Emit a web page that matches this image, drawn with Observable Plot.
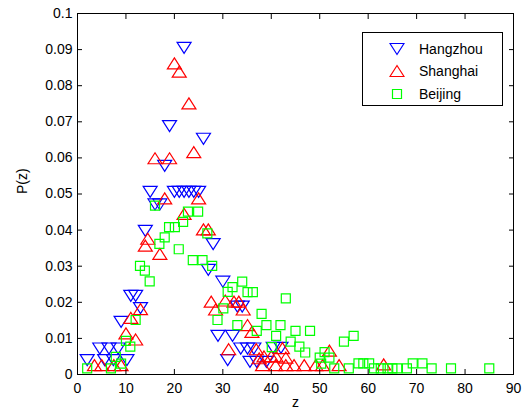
<!DOCTYPE html>
<html>
<head>
<meta charset="utf-8">
<script src="https://cdn.jsdelivr.net/npm/d3@7"></script>
<script src="https://cdn.jsdelivr.net/npm/@observablehq/plot@0.6"></script>
<style>
  body { margin: 0; background: #fff; }
  #wrap { position: relative; width: 525px; height: 414px; font-family: "Liberation Sans", Arial, sans-serif; }
  #legend { position: absolute; left: 362px; top: 32px; width: 141px; height: 74px; border: 1px solid #000; background: #fff; box-sizing: border-box; }
  .item { position: absolute; left: 0; height: 16px; display: flex; align-items: center; font-size: 14px; color: #000; }
  .item svg { margin-left: 26px; margin-right: 14px; }
</style>
</head>
<body>
<div id="wrap"></div>
<script>
const xTicks = [0, 10, 20, 30, 40, 50, 60, 70, 80, 90];
const yTicks = [0, 0.01, 0.02, 0.03, 0.04, 0.05, 0.06, 0.07, 0.08, 0.09, 0.1];
const yTickLabels = ["0", "0.01", "0.02", "0.03", "0.04", "0.05", "0.06", "0.07", "0.08", "0.09", "0.1"];
const seriesNames = ["Hangzhou", "Shanghai", "Beijing"];
const seriesColors = ["#0000ff", "#ff0000", "#00ff00"];
const xLabel = "z";
const yLabelText = "P(z)";

// [z, P(z)]
const hangzhou = [
  [22, 0.0905], [19, 0.0688], [26, 0.0653], [18, 0.0578], [15, 0.0506],
  [20, 0.0506], [21, 0.0506], [22, 0.0506], [23, 0.0506], [24, 0.0506], [25, 0.0506],
  [16, 0.0471], [17, 0.0471], [14, 0.0398], [28, 0.0361], [27, 0.0290], [30, 0.0257],
  [11, 0.0218], [12, 0.0218], [33, 0.0188], [34, 0.0188], [13, 0.0184], [9, 0.0146],
  [29, 0.0107], [32, 0.0107], [4.6, 0.0072], [6.5, 0.0072], [8.4, 0.0072],
  [2, 0.0040], [5.6, 0.0040], [7.4, 0.0040], [10.2, 0.0040],
  [33.7, 0.0072], [35.1, 0.0072], [36.4, 0.0072], [40.4, 0.0074], [42, 0.0074],
  [31, 0.0040], [35.6, 0.0035], [37, 0.0035], [39, 0.0035]
];
const shanghai = [
  [20, 0.0862], [21, 0.0839], [23, 0.0751], [24, 0.0616], [16, 0.0599], [19, 0.0599],
  [18, 0.0488], [25, 0.0488], [22, 0.0445], [26, 0.0402], [27, 0.0402],
  [14.5, 0.0376], [14, 0.0357], [17, 0.0334],
  [27.6, 0.0202], [30.5, 0.0205], [32.3, 0.0202], [33.3, 0.0202], [28.5, 0.0180], [34.2, 0.0180],
  [13, 0.0181], [11, 0.0157], [10, 0.0114], [12, 0.0097],
  [35.1, 0.0137], [36, 0.0118], [31.2, 0.0070], [36.9, 0.0070], [42.3, 0.0073],
  [37.5, 0.0045], [38.5, 0.0050], [40, 0.0050], [41, 0.0050], [43, 0.0047],
  [38.2, 0.0026], [40.9, 0.0026], [43, 0.0026], [44.7, 0.0026], [46.8, 0.0026], [49.2, 0.0026],
  [52, 0.0066], [50.6, 0.0026], [54, 0.0026], [63.2, 0.0028],
  [3.5, 0.0026], [5, 0.0026], [7.5, 0.0026], [9, 0.0026]
];
const beijing = [
  [16, 0.0468], [22.8, 0.0451], [24.9, 0.0451], [21.8, 0.0423], [18.9, 0.0408], [20.1, 0.0408],
  [18, 0.0380], [16.9, 0.0362], [20.9, 0.0347], [26.8, 0.0391], [23.8, 0.0317], [25.8, 0.0317],
  [27.8, 0.0301], [12.9, 0.0301], [13.9, 0.0288], [14.9, 0.0258], [34, 0.0257], [32, 0.0242],
  [31, 0.0229], [35.1, 0.0228], [36.2, 0.0228], [43, 0.0211], [30.1, 0.0183], [28.9, 0.0151],
  [38, 0.0168], [33, 0.0137], [39, 0.0137], [41.9, 0.0137], [37, 0.0121], [41, 0.0107],
  [45, 0.0121], [48, 0.0121], [44, 0.0091], [45.8, 0.0077], [47, 0.0061], [40.1, 0.0076],
  [12, 0.0151], [10, 0.0093], [10.9, 0.0077], [7.9, 0.0049], [2, 0.0017], [6.9, 0.0017], [9, 0.0030],
  [50, 0.0047], [51, 0.0062], [52, 0.0047], [50.3, 0.0030], [53, 0.0017],
  [55, 0.0091], [57, 0.0107], [56, 0.0017], [58, 0.0031], [59, 0.0031], [60.2, 0.0031],
  [61.2, 0.0017], [62.6, 0.0017], [64, 0.0017], [65, 0.0017], [66, 0.0017], [68, 0.0017],
  [69.2, 0.0031], [71.2, 0.0031], [73.1, 0.0017], [77.1, 0.0017], [85, 0.0017]
];

// marker shapes (MATLAB-like)
const triDown = { draw(c) { c.moveTo(-7, -5.5); c.lineTo(7, -5.5); c.lineTo(0, 5.5); c.closePath(); } };
const triUp = { draw(c) { c.moveTo(0, -5.5); c.lineTo(7, 5.5); c.lineTo(-7, 5.5); c.closePath(); } };
const square = { draw(c) { c.rect(-4.5, -4.5, 9, 9); } };
const symbols = [triDown, triUp, square];
const seriesData = [hangzhou, shanghai, beijing];

const yLabelMap = new Map(yTicks.map((t, i) => [t, yTickLabels[i]]));

const chart = Plot.plot({
  width: 525,
  height: 414,
  marginLeft: 77,
  marginRight: 12,
  marginTop: 13,
  marginBottom: 40,
  style: { fontFamily: "'Liberation Sans', Arial, sans-serif", fontSize: "14px", color: "#000", background: "#fff", overflow: "visible" },
  x: { domain: [0, 90] },
  y: { domain: [0, 0.1] },
  marks: [
    ...seriesData.map((data, k) => Plot.dot(data, {
      x: d => d[0], y: d => d[1], symbol: symbols[k], r: 6,
      stroke: seriesColors[k], fill: "none", strokeWidth: 1.2
    })),
    Plot.frame({ stroke: "#000", strokeWidth: 1 }),
    Plot.axisX({ anchor: "bottom", ticks: xTicks, tickSize: -5, tickFormat: () => "", label: null, stroke: "#000" }),
    Plot.axisX({ anchor: "top", ticks: xTicks, tickSize: -5, tickFormat: () => "", label: null, stroke: "#000" }),
    Plot.axisY({ anchor: "left", ticks: yTicks, tickSize: -5, tickFormat: () => "", label: null, stroke: "#000" }),
    Plot.axisY({ anchor: "right", ticks: yTicks, tickSize: -5, tickFormat: () => "", label: null, stroke: "#000" }),
    Plot.axisX({ anchor: "bottom", ticks: xTicks, tickSize: 0, tickPadding: 9, label: null, tickFormat: d => String(d) }),
    Plot.axisY({ anchor: "left", ticks: yTicks, tickSize: 0, tickPadding: 5, label: null, tickFormat: d => yLabelMap.get(d) }),
    Plot.text([xLabel], { text: d => d, frameAnchor: "bottom", dy: 32, fontSize: 14 }),
    Plot.text([yLabelText], { text: d => d, frameAnchor: "left", dx: -55, rotate: -90, fontSize: 14 })
  ]
});

const wrap = document.getElementById("wrap");
wrap.appendChild(chart);

// legend
const legend = document.createElement("div");
legend.id = "legend";
const rowsY = [8, 30, 53];
seriesNames.forEach((name, k) => {
  const item = document.createElement("div");
  item.className = "item";
  item.style.top = rowsY[k] + "px";
  const ns = "http://www.w3.org/2000/svg";
  const svg = document.createElementNS(ns, "svg");
  svg.setAttribute("width", "16");
  svg.setAttribute("height", "14");
  svg.setAttribute("viewBox", "-8 -7 16 14");
  const p = document.createElementNS(ns, "path");
  const path = d3.path();
  symbols[k].draw(path);
  p.setAttribute("d", path.toString());
  p.setAttribute("fill", "none");
  p.setAttribute("stroke", seriesColors[k]);
  p.setAttribute("stroke-width", "1.2");
  svg.appendChild(p);
  item.appendChild(svg);
  const t = document.createElement("span");
  t.textContent = name;
  item.appendChild(t);
  legend.appendChild(item);
});
wrap.appendChild(legend);
</script>
</body>
</html>
